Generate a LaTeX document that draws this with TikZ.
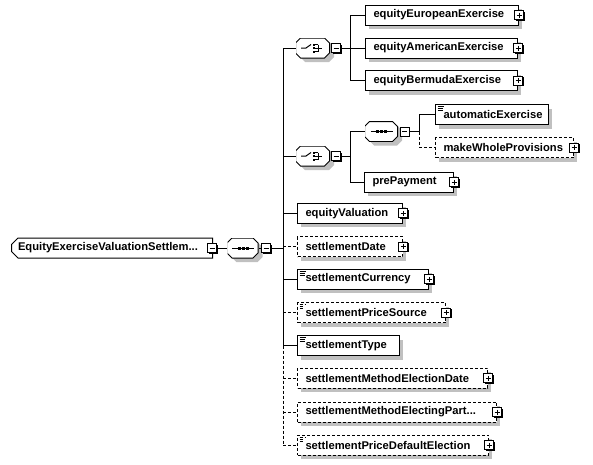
\documentclass[tikz,border=0pt]{standalone}
\usepackage{fontspec}
\setmainfont{Liberation Sans}
\usetikzlibrary{shapes.misc}
\definecolor{shadowgray}{RGB}{192,192,192}
\newcommand\elided{...}
\tikzset{
  label font/.style={font=\bfseries\fontsize{11.2}{13}\selectfont},
  elem/.style={draw, fill=white, anchor=west, minimum height=20pt, inner xsep=8pt, inner ysep=0pt,
    text width=#1, align=left, label font},
  optional/.style={dash pattern=on 3pt off 2pt},
  simple/.style={path picture={
      \foreach \d/\l in {2pt/6pt,4pt/5pt,6pt/5pt}
        \draw[black] ([xshift=2pt,yshift=-\d]path picture bounding box.north west) -- ++(\l,0);}},
  plain/.style={},
  optsimple/.style={optional, simple},
  pm/.style={draw, fill=white, minimum size=9pt, inner sep=0pt},
  minusbox/.style={pm, path picture={
      \draw[black] ([xshift=2pt]path picture bounding box.west) -- ([xshift=-2pt]path picture bounding box.east);}},
  plusbox/.style={pm, path picture={
      \draw[black] ([xshift=2pt]path picture bounding box.west) -- ([xshift=-2pt]path picture bounding box.east);
      \draw[black] ([yshift=-2pt]path picture bounding box.north) -- ([yshift=2pt]path picture bounding box.south);}},
  octagon/.style={insert path={
      (-#1+5,-10) -- (#1-5,-10) -- (#1,-5) -- (#1,5) -- (#1-5,10) -- (-#1+5,10) -- (-#1,5) -- (-#1,-5) -- cycle}},
  comp/.style={rectangle, minimum width=#1, minimum height=20pt, inner sep=0pt},
  seqcomp/.style={comp=#1, path picture={
      \begin{scope}[shift={(path picture bounding box.center)}, x=1pt, y=1pt]
        \filldraw[fill=white, draw=black, octagon=#1/2-0.5];
        \draw[black] (-11,0) -- (11,0);
        \foreach \dx in {-4,0,4} \fill[black] (\dx-1.5,-1.5) rectangle (\dx+1.5,1.5);
      \end{scope}}},
  choicecomp/.style={comp=#1, path picture={
      \begin{scope}[shift={(path picture bounding box.center)}, x=1pt, y=1pt]
        \filldraw[fill=white, draw=black, octagon=#1/2-0.5];
        \draw[black] (-12,0) -- (-7,0) -- (-2,3.5);
        \foreach \dy in {3.5,0,-3.5} {
          \fill[black] (-0.5,\dy-1) rectangle (1.5,\dy+1);
          \draw[black] (2,\dy) -- (5,\dy);}
        \draw[black] (5,3.5) -- (5,-3.5) (5,0) -- (9,0);
      \end{scope}}},
  rootbox/.style={chamfered rectangle, chamfered rectangle xsep=3pt,
    chamfered rectangle corners={north west,south west}, draw, fill=white, anchor=west,
    minimum width=201pt, minimum height=20pt, inner xsep=3pt, inner ysep=0pt,
    text width=188pt, align=left, label font}
}
\begin{document}
\begin{tikzpicture}[x=1pt, y=-1pt, line width=1pt]
  \fill[white] (0,0) rectangle (593,464);
  \useasboundingbox (0,0) rectangle (593,464);

  % root and the compositors (shadow first)
  \node[rootbox] (root) at (11,248) {EquityExerciseValuationSettlem\elided};
  \foreach \n/\cx/\cy/\w/\k in {seqMain/243/248/31/seqcomp, ch1/313/48/34/choicecomp,
      ch2/313/156/34/choicecomp, seqIn/381.5/131.5/33/seqcomp} {
    \fill[shadowgray, shift={(\cx+4,\cy+4)}, octagon=\w/2];
    \tikzset{kind/.style/.expanded={\k=\w pt}}
    \node[kind] (\n) at (\cx,\cy) {};
  }
  \coordinate (bus) at (283,248);
  \coordinate (bus1) at (350,48);
  \coordinate (bus2) at (350,156);
  \coordinate (bus3) at (419,131.5);

  % elements (shadow first)
  \foreach \n/\x/\y/\w/\k/\t in {
      eurEx/365/15/137/plain/equityEuropeanExercise,
      amEx/365/48/136/plain/equityAmericanExercise,
      berEx/365/80.7/136/plain/equityBermudaExercise,
      autoEx/435/114.7/97/simple/automaticExercise,
      mwProv/435/147.7/122/optional/makeWholeProvisions,
      prePay/364/182/73/plain/prePayment,
      eqVal/297/213.3/89/plain/equityValuation,
      sDate/297/246.5/89/optional/settlementDate,
      sCur/297/279/115/simple/settlementCurrency,
      sPrice/297/312.5/132/optsimple/settlementPriceSource,
      sType/297/345.7/86/simple/settlementType,
      sMElDate/297/378.3/174/optional/settlementMethodElectionDate,
      sMElParty/297/412/183/optional/settlementMethodElectingPart\elided,
      sPDef/297/445.3/175/optsimple/settlementPriceDefaultElection} {
    \fill[shadowgray] (\x+4,\y-6) rectangle (\x+\w+20,\y+14);
    \tikzset{kind/.style/.expanded={\k}}
    \node[elem=\w pt, kind] (\n) at (\x,\y) {\t};
  }

  % collapse and expand buttons
  \foreach \n/\dx in {root/-1pt, seqMain/7pt, ch1/5.5pt, ch2/5.5pt, seqIn/6pt} {
    \coordinate (\n-mc) at ([xshift=\dx]\n.east);
    \fill[black] ([shift={(1pt,-1pt)}]\n-mc) +(-4.5pt,-4.5pt) rectangle +(4.5pt,4.5pt);
    \node[minusbox] (\n-m) at (\n-mc) {};
  }
  \foreach \n in {eurEx,amEx,berEx,mwProv,prePay,eqVal,sDate,sCur,sPrice,sMElDate,sMElParty,sPDef} {
    \fill[black] ([shift={(1pt,-1pt)}]\n.east) +(-4.5pt,-4.5pt) rectangle +(4.5pt,4.5pt);
    \node[plusbox] (\n-p) at (\n.east) {};
  }

  % connectors
  \draw (root-m) -- (seqMain);
  \draw (seqMain) -- (seqMain-m);
  \draw (seqMain-m) -- (bus);
  \draw (bus |- ch1) -- (bus |- sType);
  \draw[optional] (bus |- sType) -- (bus |- sPDef);
  \foreach \n in {ch1,ch2,eqVal,sCur,sType}
    \draw (bus |- \n) -- (\n);
  \foreach \n in {sDate,sPrice,sMElDate,sMElParty,sPDef}
    \draw[optional] (bus |- \n) -- (\n);

  \draw (ch1-m) -- (bus1);
  \draw (bus1 |- eurEx) -- (bus1 |- berEx);
  \foreach \n in {eurEx,amEx,berEx}
    \draw (bus1 |- \n) -- (\n);

  \draw (ch2-m) -- (bus2);
  \draw (bus2 |- seqIn) -- (bus2 |- prePay);
  \draw (bus2 |- seqIn) -- (seqIn);
  \draw (bus2 |- prePay) -- (prePay);

  \draw (seqIn-m) -- (bus3);
  \draw (bus3 |- autoEx) -- (bus3);
  \draw[optional] (bus3) -- (bus3 |- mwProv);
  \draw (bus3 |- autoEx) -- (autoEx);
  \draw[optional] (bus3 |- mwProv) -- (mwProv);
\end{tikzpicture}
\end{document}
